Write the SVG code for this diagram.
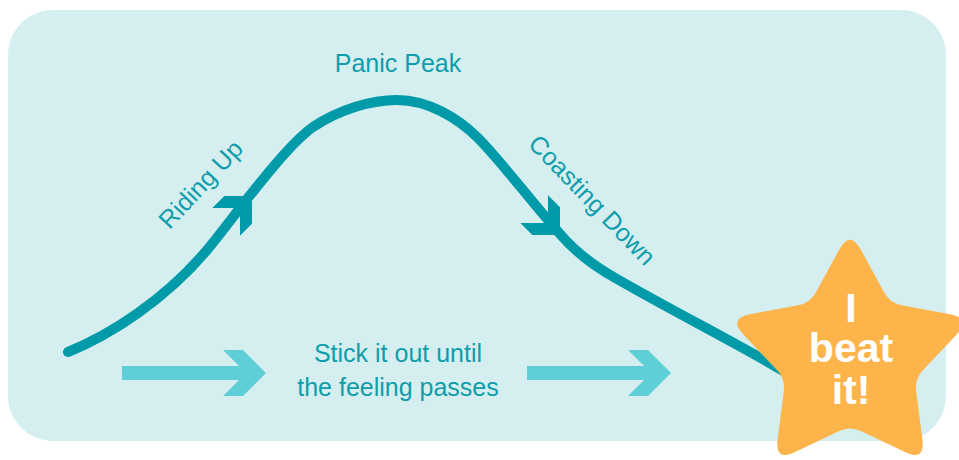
<svg xmlns="http://www.w3.org/2000/svg" width="959" height="460" viewBox="0 0 959 460">
  <defs>
    <style>
      .lbl { font-family: "Liberation Sans", Arial, sans-serif; font-size: 25px; fill: #0F9DAB; }
      .star-text { font-family: "Liberation Sans", Arial, sans-serif; font-size: 41px; font-weight: bold; fill: #FFFFFF; text-anchor: middle; }
      .curve { fill: none; stroke: #009AA8; stroke-width: 10; stroke-linecap: round; stroke-linejoin: round; }
      .head { fill: #009AA8; }
      .light { fill: #5ECFD6; }
    </style>
    <path id="chev" d="M0,0 L-23,-23 L-43,-23 L-20,0 L-43,23 L-23,23 Z"/>
  </defs>

  <rect id="background" x="8" y="10" width="938" height="431" rx="45" ry="45" fill="#D5EFF1"/>

  <g id="connectors">
    <path id="curve" class="curve" d="M68,352 C110,335 165,300 207,250 C232,220 283,148 313,127 C340,109 372,100 397,100 C428,100 458,118 478,138 C500,160 530,200 560,234 C572,248 590,264 617,279 C680,315 740,345 785,372"/>
    <use href="#chev" class="head" transform="translate(252,196) rotate(-45) scale(0.85)"/>
    <use href="#chev" class="head" transform="translate(560,235) rotate(45) scale(0.85)"/>
    <polygon id="arrow-left" class="light" points="122,366 239,366 223,350 243,350 266,373 243,396 223,396 239,380 122,380"/>
    <polygon id="arrow-right" class="light" points="527,366 644,366 628,350 648,350 671,373 648,396 628,396 644,380 527,380"/>
  </g>

  <g id="label-panic-peak">
    <text class="lbl" x="398" y="72" text-anchor="middle">Panic Peak</text>
  </g>
  <g id="label-riding-up">
    <text class="lbl" text-anchor="middle" transform="translate(207,190) rotate(-47)">Riding Up</text>
  </g>
  <g id="label-coasting-down">
    <text class="lbl" text-anchor="middle" transform="translate(586,206) rotate(46)">Coasting Down</text>
  </g>
  <g id="label-stick">
    <text class="lbl" text-anchor="middle"><tspan x="398" y="362">Stick it out until</tspan><tspan x="398" y="396">the feeling passes</tspan></text>
  </g>

  <g id="star">
    <path fill="#FDB44B" d="M860.6,249.3 L884.2,292.5 Q890,303 901.8,305.2 L950.1,314.3 Q971.7,318.4 956.7,334.4 L922.9,370.3 Q914.7,379 916.2,390.9 L922.4,439.8 Q925.2,461.6 905.4,452.2 L860.8,431.1 Q850,426 839.2,431.1 L794.6,452.2 Q774.8,461.6 777.6,439.8 L783.8,390.9 Q785.3,379 777.1,370.3 L743.3,334.4 Q728.3,318.4 749.9,314.3 L798.2,305.2 Q810,303 815.8,292.5 L839.4,249.3 Q850,230 860.6,249.3 Z"/>
    <text class="star-text"><tspan x="851" y="322">I</tspan><tspan x="851" y="362">beat</tspan><tspan x="851" y="404">it!</tspan></text>
  </g>
</svg>
